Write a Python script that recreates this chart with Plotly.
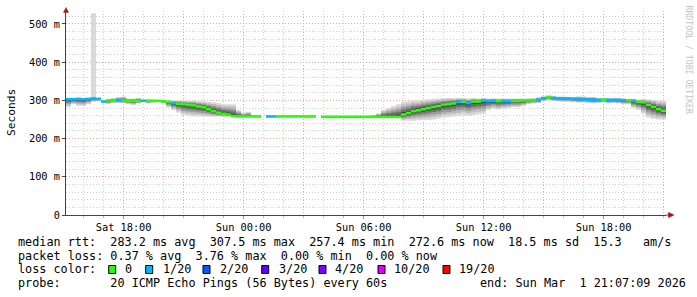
import plotly.graph_objects as go
from datetime import datetime, timedelta

# ---------------- data ----------------
START = datetime(2026, 2, 28, 15, 7, 9)
STEP_MIN = 15  # one consolidated step = 15 minutes, 120 steps = 30 h

median_ms = [303, 303, 304, 303, 304, 305, 304, 297, 300, 301, 301, 300,
             299, 299, 299, 299, 299, 299, 299, 298, 296, 293, 291, 290,
             288, 287, 284, 282, 277, 272, 268, 265, 263, 259,
             258, 258, 258, 258, 258, None,
             258, 258, 258, 258, 258, 258, 258, 258, 258, 258, None,
             257, 257, 257, 257, 257, 257, 257, 257, 257, 257, 257, 257, 257, 257, 257, 257,
             263, 267, 272, 274, 277, 280, 283, 285, 289, 290, 292, 296, 296, 293,
             297, 297, 299, 298, 299, 298, 298, 298, 299, 299, 300, 300, 300, 301,
             306, 309, 306, 305, 305, 305, 304, 304, 303, 302, 302, 301, 302,
             301, 301, 301, 300, 300, 299, 296, 295, 288, 283, 277, 273]

loss_cnt = [1, 1, 1, 1, 1, 1, 1, 1, 0, 0, 1, 0,
            0, 0, 0, 1, 0, 0, 0, 0, 0, 1, 0, 0,
            0, 0, 0, 0, 0, 0, 0, 0, 0, 0,
            0, 0, 0, 0, 0, 0,
            1, 1, 0, 0, 0, 0, 0, 0, 0, 0, 0,
            0, 0, 0, 0, 0, 0, 0, 0, 0, 0, 0, 0, 0, 0, 0, 0,
            0, 0, 0, 0, 0, 0, 0, 0, 0, 0, 0, 1, 0, 1,
            0, 0, 1, 1, 1, 0, 1, 1, 0, 0, 0, 0, 0, 1,
            1, 0, 1, 1, 1, 1, 1, 1, 1, 1, 1, 1, 0,
            1, 1, 1, 1, 0, 1, 0, 0, 0, 0, 0, 0]

smoke_lo_ms = [283, 290, 286, 285, 290, 296, 298, 295, 290, 293, 293, 292,
               290, 288, 292, 296, 292, 294, 297, 292, 282, 275, 268, 262,
               260, 258, 258, 257, 257, 257, 257, 257, 257, 257,
               257, 257, 257, 257, 258, 258,
               258, 258, 258, 258, 258, 258, 258, 258, 258, 258, 257,
               257, 257, 257, 257, 257, 257, 257, 257, 257, 257, 257, 257, 257, 257, 257, 256,
               247, 247, 247, 248, 248, 249, 250, 252, 255, 256, 258, 260, 262, 260,
               262, 264, 265, 275, 278, 276, 278, 280, 282, 282, 285, 290, 292, 293,
               298, 300, 298, 297, 296, 296, 295, 294, 294, 293, 292, 293, 294,
               292, 293, 292, 290, 290, 280, 275, 265, 255, 252, 250, 250]

smoke_hi_ms = [306, 305, 306, 306, 306, 306, 306, 300, 303, 305, 308, 310,
               305, 305, 307, 300, 302, 301, 300, 300, 300, 300, 300, 300,
               299, 299, 298, 297, 296, 295, 293, 290, 290, 290,
               275, 268, 270, 262, 258, 258,
               258, 258, 258, 258, 258, 258, 258, 258, 258, 258, 257,
               257, 257, 257, 257, 257, 257, 257, 257, 257, 257, 262, 266, 275, 280, 285, 290,
               296, 298, 300, 300, 302, 303, 304, 305, 306, 306, 306, 306, 306, 305,
               306, 305, 306, 305, 305, 305, 305, 305, 305, 305, 304, 305, 306, 308,
               310, 312, 312, 310, 310, 309, 309, 310, 310, 309, 309, 306, 306,
               306, 306, 306, 305, 303, 304, 302, 303, 303, 302, 300, 300]

# single outlier pings above the normal smoke (None = none)
outlier_hi_ms = [None] * 120
outlier_hi_ms[5] = 528

y_tick_vals = [0, 100, 200, 300, 400, 500]
y_tick_text = ["0", "100 m", "200 m", "300 m", "400 m", "500 m"]
x_tick_text = {"2026-02-28 18:00:00": "Sat 18:00", "2026-03-01 00:00:00": "Sun 00:00",
               "2026-03-01 06:00:00": "Sun 06:00", "2026-03-01 12:00:00": "Sun 12:00",
               "2026-03-01 18:00:00": "Sun 18:00"}

loss_labels = ["0", "1/20", "2/20", "3/20", "4/20", "10/20", "19/20"]
loss_levels = [0, 1, 2, 3, 4, 10, 19]
loss_colors = ["#26ff00", "#00b8ff", "#0059ff", "#5e00ff", "#7e00ff", "#dd00ff", "#ff0000"]

rtt_stats = ["283.2", "307.5", "257.4", "272.6", "18.5", "15.3"]
loss_stats = ["0.37", "3.76", "0.00", "0.00"]
probe_text = "20 ICMP Echo Pings (56 Bytes) every 60s"
end_text = "end: Sun Mar  1 21:07:09 2026"

# ---------------- layout constants ----------------
W, H = 697, 297
PL, PT, PW, PH = 66, 11, 600, 204
Y_MAX = 534
MONO = "DejaVu Sans Mono"
NB = "\u00a0"


def px_x(px):
    return (px - PL) / PW


def px_y(py):
    return (PT + PH - py) / PH


n = len(median_ms)
times = [START + timedelta(minutes=STEP_MIN * i) for i in range(n + 1)]
END = times[-1]

fig = go.Figure()

# smoke bands (outer light -> inner dark)
bands = [(1.0, "#d9d9d9"), (0.8, "#bdbdbd"), (0.6, "#9a9a9a"),
         (0.4, "#707070"), (0.2, "#454545")]
for k, (f, col) in enumerate(bands):
    lo_b, hi_b = [], []
    for m, lo, hi, out in zip(median_ms, smoke_lo_ms, smoke_hi_ms, outlier_hi_ms):
        c = m if m is not None else lo
        top = hi
        if k == 0 and out is not None:
            top = max(hi, out)
        lo_b.append(c - (c - lo) * f)
        hi_b.append(c + (top - c) * f)
    lo_b.append(lo_b[-1])
    hi_b.append(hi_b[-1])
    fig.add_trace(go.Scatter(x=times, y=lo_b, mode="lines", line=dict(width=0, shape="hv"),
                             hoverinfo="skip", showlegend=False))
    fig.add_trace(go.Scatter(x=times, y=hi_b, mode="lines", line=dict(width=0, shape="hv"),
                             fill="tonexty", fillcolor=col, hoverinfo="skip", showlegend=False))

# median line coloured by loss
for lvl, col in zip(loss_levels, loss_colors):
    xs, ys = [], []
    for i, (m, l) in enumerate(zip(median_ms, loss_cnt)):
        if m is None or l != lvl:
            continue
        xs += [times[i], times[i + 1], None]
        ys += [m, m, None]
    if xs:
        fig.add_trace(go.Scatter(x=xs, y=ys, mode="lines", line=dict(width=2.6, color=col),
                                 hoverinfo="skip", showlegend=False, connectgaps=False))

# ticks / grid
major_x = [datetime(2026, 2, 28, 18) + timedelta(hours=3 * k) for k in range(10)]
minor_x = [datetime(2026, 2, 28, 16) + timedelta(hours=k) for k in range(30)]
major_x_s = [t.strftime("%Y-%m-%d %H:%M:%S") for t in major_x]
major_x_text = [x_tick_text.get(s, "") for s in major_x_s]
minor_y = [v for v in range(20, Y_MAX, 20) if v % 100 != 0]

fig.update_layout(
    width=W, height=H,
    margin=dict(l=PL, r=W - PL - PW, t=PT, b=H - PT - PH, pad=0),
    paper_bgcolor="white", plot_bgcolor="white", showlegend=False,
    font=dict(family=MONO, size=10.3, color="black"),
    xaxis=dict(type="date", range=[START, END], tickvals=major_x_s, ticktext=major_x_text,
               showgrid=True, gridcolor="#e9a3a3", griddash="1px,2px", gridwidth=1,
               showline=True, linecolor="#444", linewidth=1, zeroline=False,
               ticks="outside", ticklen=3, tickcolor="#e08080",
               tickfont=dict(family=MONO, size=10.3, color="black"),
               minor=dict(tickvals=[t.strftime("%Y-%m-%d %H:%M:%S") for t in minor_x],
                          showgrid=True, gridcolor="#cfcfcf", griddash="1px,2px",
                          ticks="outside", ticklen=2, tickcolor="#bbbbbb")),
    yaxis=dict(range=[0, Y_MAX], tickvals=y_tick_vals, ticktext=y_tick_text,
               showgrid=True, gridcolor="#e9a3a3", griddash="1px,2px", gridwidth=1,
               showline=True, linecolor="#444", linewidth=1, zeroline=False,
               ticks="outside", ticklen=3, tickcolor="#444",
               tickfont=dict(family=MONO, size=10.3, color="black"),
               minor=dict(tickvals=minor_y, showgrid=True, gridcolor="#cfcfcf",
                          griddash="1px,2px")),
)

ann = []
ann.append(dict(text="Seconds", x=px_x(11), y=px_y(113), xref="paper", yref="paper",
                textangle=-90, showarrow=False, font=dict(family=MONO, size=11.2, color="black"),
                xanchor="center", yanchor="middle"))
ann.append(dict(text="RRDTOOL / TOBI OETIKER", x=px_x(688.5), y=px_y(60), xref="paper", yref="paper",
                textangle=90, showarrow=False, font=dict(family=MONO, size=8.2, color="#c4c4c4"),
                xanchor="center", yanchor="middle"))

LF = dict(family=MONO, size=11.8, color="black")
line1 = ("median rtt:  {} ms avg  {} ms max  {} ms min  {} ms now  {} ms sd  {}   am/s"
         .format(*rtt_stats))
line2 = "packet loss: {} % avg  {} % max  {} % min  {} % now".format(*loss_stats)
line4 = "probe:       " + probe_text
rows_y = [241.8, 255.5, 269.2, 283.0]
for txt, py, px in [(line1, rows_y[0], 16), (line2, rows_y[1], 16),
                    ("loss color:", rows_y[2], 16), (line4, rows_y[3], 16),
                    (end_text, rows_y[3], 478)]:
    ann.append(dict(text=txt.replace(" ", NB), x=px_x(px), y=px_y(py), xref="paper", yref="paper",
                    showarrow=False, font=LF, xanchor="left", yanchor="middle"))

sq_x = [108.7, 145.7, 203.0, 261.7, 319.0, 378.0, 443.0]
lab_x = [123.0, 160.7, 218.3, 276.7, 333.0, 391.7, 456.7]
shapes = []
for lab, col, sx, lx in zip(loss_labels, loss_colors, sq_x, lab_x):
    shapes.append(dict(type="rect", xref="paper", yref="paper",
                       x0=px_x(sx), x1=px_x(sx + 7), y0=px_y(273.5), y1=px_y(265.5),
                       fillcolor=col, line=dict(color="black", width=1), layer="above"))
    ann.append(dict(text=lab, x=px_x(lx), y=px_y(rows_y[2]), xref="paper", yref="paper",
                    showarrow=False, font=LF, xanchor="left", yanchor="middle"))

# axis arrows
AR = "#a01818"
shapes.append(dict(type="path", xref="paper", yref="paper", fillcolor=AR, line=dict(color=AR, width=0.5),
                   path="M {} {} L {} {} L {} {} Z".format(px_x(66), px_y(7.5), px_x(63.5), px_y(12.5),
                                                           px_x(68.5), px_y(12.5))))
shapes.append(dict(type="line", xref="paper", yref="paper", x0=px_x(666), x1=px_x(669),
                   y0=px_y(215), y1=px_y(215), line=dict(color="#444", width=1)))
shapes.append(dict(type="path", xref="paper", yref="paper", fillcolor=AR, line=dict(color=AR, width=0.5),
                   path="M {} {} L {} {} L {} {} Z".format(px_x(674), px_y(215), px_x(668.5), px_y(212.3),
                                                           px_x(668.5), px_y(217.7))))

fig.update_layout(annotations=ann, shapes=shapes)
fig.write_html("out.html")
